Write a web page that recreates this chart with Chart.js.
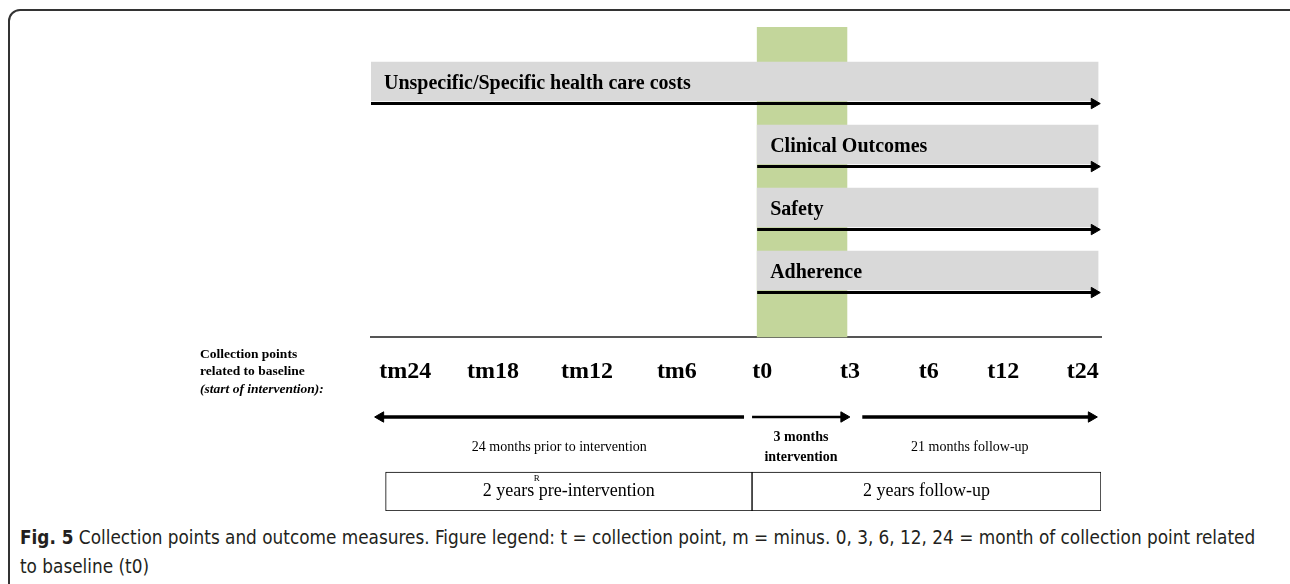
<!DOCTYPE html>
<html>
<head>
<meta charset="utf-8">
<script src="https://cdn.jsdelivr.net/npm/chart.js@4/dist/chart.umd.min.js"></script>
<style>
  html, body { margin: 0; padding: 0; background: #fff; width: 1290px; height: 584px; overflow: hidden; }
  #frame {
    position: absolute; left: 8px; top: 9px; width: 1300px; height: 620px;
    border: 2px solid #333; border-radius: 12px; box-sizing: border-box;
  }
  #diagram { position: absolute; left: 0; top: 0; }
  #caption {
    position: absolute; left: 20px; top: 523px; width: 1260px;
    font-family: "Liberation Sans Narrow", "DejaVu Sans Condensed", "Open Sans", sans-serif;
    font-size: 18.8px; line-height: 29px; color: #231f20; white-space: nowrap;
  }
  #caption b { font-weight: bold; }
</style>
</head>
<body>
<div id="frame"></div>
<canvas id="diagram" width="1290" height="520"></canvas>
<div id="caption"><b>Fig. 5</b> Collection points and outcome measures. Figure legend: t = collection point, m = minus. 0, 3, 6, 12, 24 = month of collection point related<br>to baseline (t0)</div>

<script>
// timeline runs 0..100 from the first collection point block to the end of follow-up
const measures = ['Unspecific/Specific health care costs', 'Clinical Outcomes', 'Safety', 'Adherence'];
const measureFrom = [0, 52.9, 52.9, 52.9];
const measureTo = [99.6, 99.6, 99.6, 99.6];

const timepoints = ['tm24', 'tm18', 'tm12', 'tm6', 't0', 't3', 't6', 't12', 't24'];
const timepointAt = [4.7, 16.7, 29.6, 41.9, 53.6, 65.6, 76.4, 86.6, 97.5];

const intervention = [52.9, 65.2];

const periods = ['24 months prior to intervention', '3 months|intervention', '21 months follow-up'];
const periodFrom = [51.1, 52.2, 67.3];
const periodTo = [0.5, 65.6, 99.5];

const phases = ['2 years pre-intervention', '2 years follow-up'];
const phaseFrom = [2.0, 52.2];
const phaseTo = [52.2, 100];

const SERIF = '"Liberation Serif", "DejaVu Serif", serif';
const PX_PER_UNIT = 7.3;
const HEAD = 6; // arrow head radius

// rows on the vertical lane scale
const ROW_BAND = 1.595;
const ROW_AXIS = 4.056;
const ROW_ARROWS = 5.325;
const ROW_PERIOD_TEXT = 5.8;
const ROW_BOX = 6.508;

// moves an arrow end back so the head tip lands on the given value
function headCenter(from, to) {
    const d = HEAD / PX_PER_UNIT;
    return to > from ? to - d : to + d;
}

function arrow(from, to, row, width) {
    return {
        type: 'line',
        data: [{ x: from, y: row }, { x: headCenter(from, to), y: row }],
        borderColor: '#000',
        borderWidth: width,
        pointRadius: [0, HEAD],
        pointHoverRadius: [0, HEAD],
        pointStyle: 'triangle',
        pointRotation: to > from ? 90 : -90,
        pointBackgroundColor: '#000',
        pointBorderColor: '#000',
        pointBorderWidth: 1,
        clip: false,
        order: 0
    };
}

const measureArrows = measures.map((m, i) => arrow(measureFrom[i], measureTo[i] + 0.3, i + 0.35, 3));
const periodArrows = periods.map((p, i) => arrow(periodFrom[i], periodTo[i], ROW_ARROWS, i === 1 ? 2.5 : 3.5));

const diagramText = {
    id: 'diagramText',
    afterDatasetsDraw(chart) {
        const { ctx, scales: { x, y } } = chart;
        ctx.save();
        ctx.fillStyle = '#000';
        ctx.textBaseline = 'middle';

        // measure names inside the grey bars
        ctx.textAlign = 'left';
        ctx.font = 'bold 20px ' + SERIF;
        chart.getDatasetMeta(1).data.forEach((bar, i) => {
            ctx.fillText(measures[i], Math.min(bar.x, bar.base) + 13, bar.y + 2);
        });

        // row heading at the left
        ctx.font = 'bold 13.5px ' + SERIF;
        ctx.fillText('Collection points', 200, 355);
        ctx.fillText('related to baseline', 200, 372);
        ctx.font = 'italic bold 13.5px ' + SERIF;
        ctx.fillText('(start of intervention):', 200, 390);

        // period descriptions under the arrows
        ctx.textAlign = 'center';
        periods.forEach((p, i) => {
            const cx = x.getPixelForValue((periodFrom[i] + periodTo[i]) / 2);
            const cy = y.getPixelForValue(ROW_PERIOD_TEXT);
            if (p.includes('|')) {
                ctx.font = 'bold 14px ' + SERIF;
                const lines = p.split('|');
                ctx.fillText(lines[0], cx, cy - 10);
                ctx.fillText(lines[1], cx, cy + 10);
            } else {
                ctx.font = '14px ' + SERIF;
                ctx.fillText(p, i === 2 ? cx - 10 : cx, cy);
            }
        });

        // phase names in the bottom box
        ctx.font = '18px ' + SERIF;
        phases.forEach((p, i) => {
            const cx = x.getPixelForValue((phaseFrom[i] + phaseTo[i]) / 2);
            ctx.fillText(p, cx, y.getPixelForValue(ROW_BOX));
        });
        ctx.font = '9px ' + SERIF;
        ctx.fillText('R', x.getPixelForValue(22.7), y.getPixelForValue(ROW_BOX) - 13);

        ctx.restore();
    }
};

new Chart(document.getElementById('diagram'), {
    type: 'bar',
    data: {
        datasets: [
            {
                indexAxis: 'y',
                data: [{ x: intervention, y: ROW_BAND }],
                backgroundColor: '#c3d69b',
                barThickness: 310,
                grouped: false,
                order: 3
            },
            {
                indexAxis: 'y',
                data: measures.map((m, i) => ({ x: [measureFrom[i], measureTo[i]], y: i })),
                backgroundColor: '#d9d9d9',
                barThickness: 39,
                grouped: false,
                order: 2
            },
            {
                indexAxis: 'y',
                data: phases.map((p, i) => ({ x: [phaseFrom[i], phaseTo[i]], y: ROW_BOX })),
                backgroundColor: '#fff',
                borderColor: '#000',
                borderWidth: 1,
                borderSkipped: false,
                barThickness: 39,
                grouped: false,
                order: 2
            },
            ...measureArrows,
            ...periodArrows
        ]
    },
    options: {
        responsive: false,
        animation: false,
        devicePixelRatio: 1,
        layout: { padding: { left: 371, right: 189, top: 27, bottom: 9 } },
        plugins: { legend: { display: false }, tooltip: { enabled: false } },
        events: [],
        scales: {
            x: {
                type: 'linear',
                min: 0,
                max: 100,
                offset: false,
                position: { y: ROW_AXIS },
                z: 1,
                grid: { display: false, offset: false },
                border: { display: true, color: '#555', width: 2 },
                afterBuildTicks: axis => { axis.ticks = timepointAt.map(v => ({ value: v })); },
                ticks: {
                    autoSkip: false,
                    maxRotation: 0,
                    padding: 12,
                    color: '#000',
                    font: { family: SERIF, size: 24, weight: 'bold' },
                    callback: (v, i) => timepoints[i]
                }
            },
            y: {
                type: 'linear',
                reverse: true,
                min: -0.865,
                max: 6.817,
                offset: false,
                grid: { offset: false },
                display: false
            }
        }
    },
    plugins: [diagramText]
});
</script>
</body>
</html>
